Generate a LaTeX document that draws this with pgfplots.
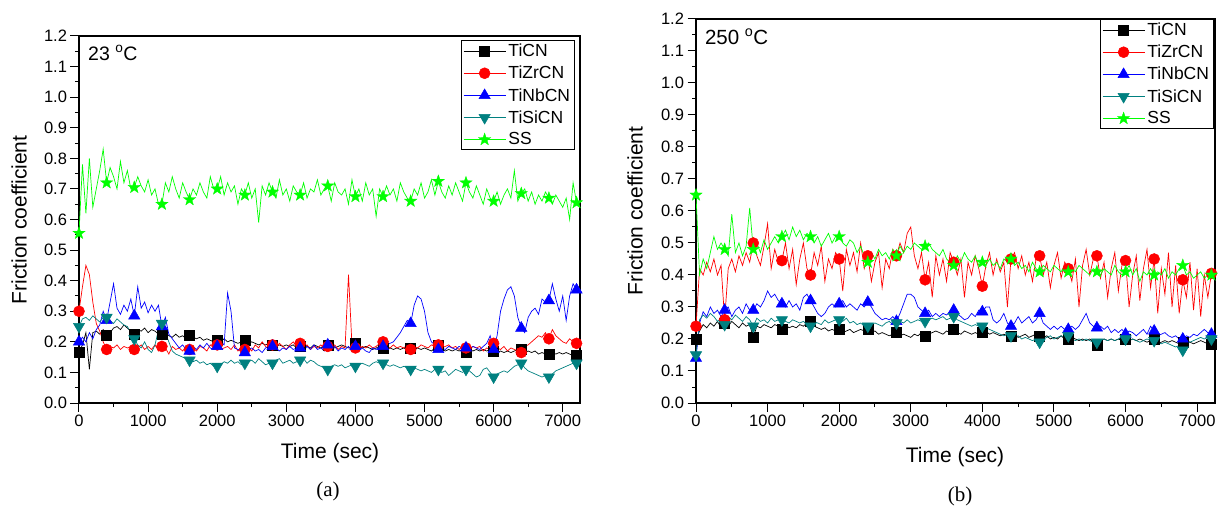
\documentclass[border=0pt]{standalone}
\usepackage{fontspec}
\setmainfont{Liberation Sans}
\newfontfamily\seriffont{Liberation Serif}
\usepackage{pgfplots}
\usepackage{pgfplotstable}
\pgfplotsset{compat=1.18}
\usetikzlibrary{plotmarks}
\definecolor{tealc}{RGB}{0,128,128}
\definecolor{ssgreen}{RGB}{0,255,0}

\pgfdeclareplotmark{fstar}{%
  \pgfpathmoveto{\pgfpointpolar{90}{\pgfplotmarksize}}%
  \pgfpathlineto{\pgfpointpolar{126}{0.40\pgfplotmarksize}}%
  \pgfpathlineto{\pgfpointpolar{162}{\pgfplotmarksize}}%
  \pgfpathlineto{\pgfpointpolar{198}{0.40\pgfplotmarksize}}%
  \pgfpathlineto{\pgfpointpolar{234}{\pgfplotmarksize}}%
  \pgfpathlineto{\pgfpointpolar{270}{0.40\pgfplotmarksize}}%
  \pgfpathlineto{\pgfpointpolar{306}{\pgfplotmarksize}}%
  \pgfpathlineto{\pgfpointpolar{342}{0.40\pgfplotmarksize}}%
  \pgfpathlineto{\pgfpointpolar{18}{\pgfplotmarksize}}%
  \pgfpathlineto{\pgfpointpolar{54}{0.40\pgfplotmarksize}}%
  \pgfpathclose
  \pgfusepathqfillstroke
}

% 23 C : t TiCN TiZrCN TiNbCN TiSiCN SS
\pgfplotstableread{
t a b c d e
0 0.165 0.300 0.200 0.250 0.555
50 0.190 0.380 0.215 0.275 0.780
100 0.230 0.450 0.200 0.280 0.620
150 0.110 0.420 0.230 0.270 0.800
200 0.230 0.330 0.210 0.285 0.640
250 0.235 0.260 0.240 0.275 0.700
300 0.225 0.235 0.255 0.265 0.760
350 0.240 0.200 0.300 0.280 0.830
400 0.220 0.175 0.270 0.280 0.720
450 0.230 0.185 0.330 0.270 0.770
500 0.245 0.180 0.390 0.260 0.740
550 0.250 0.190 0.310 0.275 0.700
600 0.240 0.175 0.290 0.265 0.790
650 0.255 0.185 0.320 0.255 0.720
700 0.245 0.180 0.300 0.250 0.760
750 0.235 0.185 0.340 0.230 0.700
800 0.225 0.175 0.285 0.210 0.705
850 0.240 0.180 0.380 0.190 0.740
900 0.235 0.190 0.310 0.180 0.710
950 0.245 0.175 0.330 0.200 0.690
1000 0.230 0.185 0.295 0.175 0.730
1050 0.240 0.175 0.320 0.165 0.680
1100 0.235 0.190 0.300 0.190 0.700
1150 0.225 0.170 0.320 0.240 0.650
1200 0.225 0.185 0.250 0.260 0.650
1250 0.230 0.180 0.280 0.230 0.720
1300 0.220 0.160 0.225 0.200 0.690
1350 0.215 0.185 0.210 0.170 0.740
1400 0.225 0.175 0.195 0.160 0.700
1450 0.215 0.180 0.180 0.155 0.670
1500 0.220 0.170 0.190 0.150 0.720
1550 0.210 0.185 0.175 0.145 0.690
1600 0.220 0.175 0.170 0.140 0.665
1650 0.215 0.180 0.185 0.135 0.700
1700 0.210 0.170 0.175 0.140 0.680
1750 0.215 0.185 0.190 0.130 0.720
1800 0.205 0.180 0.180 0.135 0.690
1850 0.210 0.170 0.195 0.125 0.670
1900 0.205 0.190 0.180 0.130 0.740
1950 0.200 0.180 0.175 0.120 0.700
2000 0.205 0.190 0.185 0.120 0.700
2050 0.200 0.175 0.200 0.125 0.740
2100 0.210 0.180 0.190 0.135 0.680
2150 0.200 0.185 0.360 0.130 0.720
2200 0.205 0.175 0.300 0.140 0.690
2250 0.200 0.190 0.180 0.130 0.710
2300 0.195 0.170 0.175 0.135 0.650
2350 0.200 0.185 0.170 0.125 0.700
2400 0.205 0.175 0.165 0.130 0.680
2450 0.195 0.185 0.175 0.135 0.720
2500 0.200 0.170 0.180 0.140 0.670
2550 0.195 0.190 0.170 0.130 0.700
2600 0.190 0.180 0.175 0.145 0.590
2650 0.195 0.200 0.165 0.135 0.710
2700 0.190 0.185 0.180 0.125 0.680
2750 0.195 0.175 0.185 0.130 0.720
2800 0.190 0.190 0.185 0.130 0.690
2850 0.185 0.180 0.175 0.140 0.670
2900 0.190 0.195 0.170 0.145 0.730
2950 0.185 0.185 0.180 0.130 0.680
3000 0.190 0.175 0.175 0.135 0.700
3050 0.185 0.190 0.185 0.140 0.660
3100 0.190 0.200 0.175 0.130 0.710
3150 0.180 0.185 0.180 0.135 0.690
3200 0.185 0.195 0.180 0.140 0.680
3250 0.190 0.180 0.170 0.145 0.720
3300 0.185 0.190 0.185 0.130 0.670
3350 0.180 0.175 0.175 0.140 0.700
3400 0.190 0.185 0.190 0.135 0.690
3450 0.185 0.180 0.175 0.125 0.730
3500 0.180 0.190 0.180 0.120 0.680
3550 0.185 0.175 0.170 0.115 0.700
3600 0.190 0.185 0.190 0.110 0.710
3650 0.185 0.180 0.175 0.120 0.660
3700 0.180 0.190 0.185 0.125 0.720
3750 0.185 0.175 0.170 0.120 0.690
3800 0.190 0.185 0.180 0.125 0.680
3850 0.185 0.180 0.175 0.115 0.700
3900 0.180 0.420 0.185 0.120 0.650
3950 0.185 0.190 0.170 0.125 0.730
4000 0.195 0.180 0.185 0.120 0.675
4050 0.185 0.175 0.175 0.125 0.700
4100 0.180 0.185 0.180 0.130 0.660
4150 0.185 0.180 0.170 0.125 0.720
4200 0.180 0.190 0.165 0.120 0.680
4250 0.175 0.180 0.180 0.130 0.700
4300 0.180 0.185 0.175 0.135 0.610
4350 0.185 0.195 0.185 0.130 0.700
4400 0.180 0.200 0.185 0.130 0.675
4450 0.175 0.185 0.190 0.125 0.710
4500 0.180 0.180 0.195 0.120 0.680
4550 0.175 0.190 0.200 0.125 0.700
4600 0.180 0.180 0.215 0.120 0.660
4650 0.175 0.185 0.230 0.115 0.720
4700 0.180 0.180 0.250 0.120 0.690
4750 0.175 0.190 0.270 0.115 0.670
4800 0.180 0.175 0.260 0.110 0.660
4850 0.175 0.185 0.320 0.115 0.700
4900 0.180 0.180 0.350 0.110 0.680
4950 0.175 0.190 0.340 0.105 0.720
5000 0.180 0.185 0.300 0.110 0.670
5050 0.175 0.180 0.230 0.105 0.690
5100 0.170 0.190 0.200 0.100 0.730
5150 0.180 0.185 0.190 0.110 0.680
5200 0.190 0.190 0.175 0.110 0.725
5250 0.175 0.180 0.180 0.100 0.690
5300 0.170 0.185 0.175 0.105 0.670
5350 0.175 0.190 0.185 0.090 0.710
5400 0.170 0.180 0.180 0.100 0.680
5450 0.175 0.185 0.175 0.110 0.720
5500 0.170 0.175 0.185 0.105 0.690
5550 0.175 0.185 0.180 0.100 0.660
5600 0.165 0.180 0.180 0.110 0.720
5650 0.175 0.175 0.175 0.105 0.690
5700 0.170 0.185 0.185 0.095 0.670
5750 0.175 0.180 0.180 0.085 0.710
5800 0.170 0.185 0.175 0.090 0.680
5850 0.175 0.170 0.185 0.110 0.650
5900 0.170 0.180 0.195 0.115 0.700
5950 0.175 0.175 0.220 0.100 0.670
6000 0.170 0.195 0.175 0.085 0.660
6050 0.165 0.180 0.220 0.095 0.690
6100 0.170 0.175 0.300 0.100 0.650
6150 0.165 0.185 0.340 0.105 0.680
6200 0.170 0.170 0.370 0.100 0.700
6250 0.165 0.180 0.380 0.110 0.670
6300 0.170 0.175 0.350 0.120 0.760
6350 0.175 0.170 0.280 0.125 0.660
6400 0.175 0.165 0.245 0.130 0.685
6450 0.165 0.185 0.230 0.115 0.700
6500 0.170 0.190 0.280 0.105 0.660
6550 0.165 0.200 0.300 0.100 0.690
6600 0.170 0.210 0.310 0.095 0.650
6650 0.160 0.220 0.290 0.090 0.680
6700 0.165 0.215 0.340 0.085 0.660
6750 0.160 0.230 0.330 0.090 0.690
6800 0.160 0.210 0.335 0.085 0.670
6850 0.165 0.240 0.390 0.095 0.650
6900 0.160 0.220 0.340 0.105 0.680
6950 0.165 0.210 0.300 0.110 0.660
7000 0.160 0.200 0.350 0.115 0.640
7050 0.165 0.195 0.270 0.120 0.670
7100 0.160 0.210 0.350 0.125 0.600
7150 0.155 0.200 0.390 0.130 0.720
7200 0.155 0.195 0.370 0.130 0.655
}\tabA

% 250 C : t TiCN TiZrCN TiNbCN TiSiCN SS
\pgfplotstableread{
t a b c d e
0 0.200 0.240 0.140 0.150 0.650
50 0.225 0.420 0.250 0.260 0.400
100 0.245 0.400 0.285 0.275 0.450
150 0.235 0.440 0.270 0.265 0.420
200 0.250 0.410 0.300 0.280 0.470
250 0.240 0.450 0.280 0.270 0.520
300 0.255 0.400 0.290 0.255 0.480
350 0.235 0.430 0.270 0.265 0.500
400 0.250 0.260 0.290 0.245 0.480
450 0.240 0.420 0.300 0.270 0.460
500 0.255 0.450 0.270 0.260 0.590
550 0.245 0.410 0.290 0.275 0.470
600 0.235 0.460 0.300 0.265 0.500
650 0.250 0.430 0.280 0.255 0.460
700 0.240 0.470 0.310 0.270 0.490
750 0.245 0.440 0.290 0.260 0.610
800 0.205 0.500 0.290 0.240 0.480
850 0.240 0.460 0.310 0.265 0.500
900 0.235 0.430 0.300 0.255 0.470
950 0.245 0.490 0.320 0.260 0.510
1000 0.240 0.560 0.350 0.250 0.480
1050 0.235 0.420 0.330 0.265 0.500
1100 0.245 0.480 0.340 0.255 0.520
1150 0.240 0.440 0.320 0.260 0.500
1200 0.230 0.445 0.310 0.260 0.520
1250 0.245 0.500 0.300 0.255 0.540
1300 0.235 0.420 0.320 0.250 0.510
1350 0.240 0.480 0.300 0.260 0.550
1400 0.235 0.370 0.310 0.255 0.520
1450 0.245 0.450 0.290 0.250 0.540
1500 0.240 0.500 0.330 0.255 0.510
1550 0.250 0.420 0.340 0.245 0.530
1600 0.255 0.400 0.320 0.240 0.520
1650 0.240 0.470 0.300 0.255 0.500
1700 0.235 0.430 0.280 0.250 0.520
1750 0.230 0.490 0.270 0.245 0.490
1800 0.235 0.380 0.280 0.260 0.510
1850 0.225 0.450 0.300 0.250 0.530
1900 0.230 0.420 0.310 0.255 0.500
1950 0.225 0.470 0.300 0.260 0.520
2000 0.230 0.450 0.310 0.260 0.520
2050 0.220 0.350 0.320 0.255 0.500
2100 0.225 0.480 0.300 0.265 0.490
2150 0.230 0.430 0.310 0.250 0.510
2200 0.220 0.470 0.300 0.255 0.500
2250 0.225 0.410 0.290 0.245 0.470
2300 0.230 0.500 0.310 0.250 0.490
2350 0.225 0.420 0.300 0.240 0.460
2400 0.230 0.460 0.315 0.240 0.440
2450 0.220 0.380 0.300 0.245 0.470
2500 0.225 0.440 0.280 0.250 0.450
2550 0.215 0.470 0.270 0.245 0.480
2600 0.220 0.360 0.260 0.240 0.460
2650 0.215 0.450 0.265 0.250 0.470
2700 0.210 0.420 0.260 0.255 0.450
2750 0.215 0.480 0.270 0.245 0.480
2800 0.220 0.460 0.255 0.250 0.460
2850 0.210 0.500 0.280 0.255 0.490
2900 0.215 0.470 0.310 0.250 0.470
2950 0.210 0.530 0.340 0.260 0.490
3000 0.205 0.550 0.340 0.250 0.480
3050 0.215 0.460 0.330 0.255 0.500
3100 0.210 0.420 0.300 0.260 0.490
3150 0.220 0.470 0.290 0.255 0.480
3200 0.210 0.385 0.280 0.255 0.490
3250 0.215 0.440 0.290 0.260 0.500
3300 0.220 0.330 0.270 0.265 0.480
3350 0.225 0.460 0.280 0.260 0.470
3400 0.220 0.400 0.270 0.265 0.460
3450 0.215 0.450 0.280 0.270 0.480
3500 0.225 0.380 0.275 0.260 0.450
3550 0.220 0.470 0.285 0.265 0.440
3600 0.230 0.440 0.290 0.270 0.430
3650 0.220 0.400 0.280 0.260 0.460
3700 0.215 0.450 0.270 0.255 0.440
3750 0.225 0.330 0.260 0.250 0.470
3800 0.220 0.440 0.265 0.245 0.450
3850 0.215 0.400 0.280 0.240 0.440
3900 0.220 0.460 0.270 0.245 0.460
3950 0.215 0.420 0.290 0.240 0.430
4000 0.220 0.365 0.285 0.240 0.440
4050 0.225 0.430 0.300 0.235 0.430
4100 0.215 0.470 0.300 0.230 0.450
4150 0.220 0.400 0.260 0.225 0.430
4200 0.215 0.450 0.250 0.220 0.440
4250 0.210 0.410 0.260 0.215 0.420
4300 0.215 0.440 0.280 0.210 0.450
4350 0.210 0.300 0.250 0.215 0.440
4400 0.210 0.450 0.240 0.210 0.450
4450 0.215 0.470 0.250 0.205 0.430
4500 0.205 0.420 0.270 0.210 0.440
4550 0.210 0.460 0.250 0.200 0.420
4600 0.215 0.400 0.260 0.205 0.430
4650 0.205 0.440 0.270 0.200 0.410
4700 0.210 0.380 0.250 0.195 0.440
4750 0.215 0.450 0.260 0.200 0.420
4800 0.210 0.460 0.280 0.190 0.410
4850 0.205 0.400 0.250 0.200 0.430
4900 0.210 0.440 0.240 0.205 0.420
4950 0.200 0.360 0.230 0.210 0.410
5000 0.205 0.430 0.240 0.200 0.430
5050 0.200 0.470 0.230 0.205 0.420
5100 0.210 0.390 0.240 0.210 0.410
5150 0.200 0.440 0.230 0.205 0.430
5200 0.200 0.420 0.230 0.210 0.410
5250 0.205 0.380 0.240 0.200 0.420
5300 0.200 0.450 0.230 0.195 0.410
5350 0.195 0.300 0.240 0.200 0.430
5400 0.200 0.430 0.260 0.195 0.420
5450 0.195 0.480 0.280 0.200 0.410
5500 0.200 0.400 0.250 0.195 0.400
5550 0.190 0.450 0.240 0.190 0.420
5600 0.180 0.460 0.235 0.190 0.410
5650 0.195 0.390 0.240 0.195 0.400
5700 0.200 0.440 0.230 0.200 0.420
5750 0.195 0.330 0.240 0.195 0.410
5800 0.200 0.420 0.220 0.200 0.400
5850 0.195 0.470 0.230 0.195 0.430
5900 0.200 0.350 0.220 0.200 0.410
5950 0.195 0.430 0.230 0.205 0.400
6000 0.200 0.445 0.215 0.200 0.410
6050 0.195 0.300 0.225 0.195 0.430
6100 0.200 0.400 0.220 0.200 0.400
6150 0.195 0.460 0.210 0.195 0.420
6200 0.200 0.320 0.220 0.190 0.380
6250 0.195 0.420 0.230 0.195 0.410
6300 0.190 0.480 0.215 0.200 0.400
6350 0.195 0.360 0.240 0.195 0.420
6400 0.200 0.450 0.225 0.195 0.400
6450 0.185 0.280 0.210 0.190 0.410
6500 0.190 0.420 0.215 0.185 0.400
6550 0.195 0.340 0.220 0.190 0.420
6600 0.190 0.470 0.210 0.185 0.390
6650 0.195 0.300 0.205 0.180 0.410
6700 0.190 0.430 0.210 0.175 0.400
6750 0.185 0.280 0.200 0.180 0.420
6800 0.190 0.385 0.200 0.165 0.430
6850 0.195 0.330 0.210 0.185 0.400
6900 0.190 0.440 0.205 0.190 0.410
6950 0.185 0.290 0.215 0.195 0.390
7000 0.190 0.420 0.210 0.200 0.400
7050 0.195 0.270 0.220 0.205 0.410
7100 0.190 0.400 0.230 0.200 0.390
7150 0.185 0.330 0.220 0.205 0.400
7200 0.185 0.405 0.215 0.200 0.400
}\tabB

\pgfplotsset{
  panel/.style={
    scale only axis,
    xmin=0, xmax=7250, ymin=0, ymax=1.2,
    xtick={0,1000,2000,3000,4000,5000,6000,7000},
    ytick={0,0.1,0.2,0.3,0.4,0.5,0.6,0.7,0.8,0.9,1.0,1.1,1.2},
    minor x tick num=1, minor y tick num=1,
    tick align=outside, tick pos=left,
    major tick length=8.5pt, minor tick length=4pt,
    axis line style={line width=1.1pt},
    tick style={line width=1pt, black},
    ticklabel style={font=\fontsize{16.5}{18}\selectfont},
    /pgf/number format/assume math mode=true,
    scaled ticks=false,
    xticklabel style={/pgf/number format/set thousands separator={}},
    yticklabel style={/pgf/number format/.cd, fixed, fixed zerofill, precision=1},
    clip=true,
    legend cell align=left,
    legend image code/.code={\draw[mark repeat=2,mark phase=2,##1] plot coordinates {(0pt,0pt) (21pt,0pt) (42pt,0pt)};},
    legend style={anchor=north east, draw=black, line width=0.9pt,
      font=\fontsize{17.5}{17.5}\selectfont, inner xsep=2pt, inner ysep=1pt,
      row sep=3pt, nodes={inner sep=2.5pt},
      /tikz/every even column/.append style={column sep=1pt}},
  },
  sTiCN/.style={black, line width=0.7pt, mark=square*, mark size=5pt, mark repeat=8, mark options={solid, fill=black, line width=0.5pt}},
  sTiZrCN/.style={red, line width=0.7pt, mark=*, mark size=5.5pt, mark repeat=8, mark options={solid, fill=red, line width=0.5pt}},
  sTiNbCN/.style={blue, line width=0.7pt, mark=triangle*, mark size=6.5pt, mark repeat=8, mark options={solid, fill=blue, line width=0.5pt}},
  sTiSiCN/.style={tealc, line width=0.7pt, mark=triangle*, mark size=6.5pt, mark repeat=8, mark options={solid, fill=tealc, rotate=180, line width=0.5pt}},
  sSS/.style={ssgreen, line width=0.7pt, mark=fstar, mark size=6.5pt, mark repeat=8, mark options={solid, fill=ssgreen, line width=0.3pt}},
}

\begin{document}
\begin{tikzpicture}
\useasboundingbox (0pt,0pt) rectangle (1219pt,509pt);

% ---- panel (a) ----
\begin{axis}[panel, at={(79pt,106pt)}, anchor=south west, width=501pt, height=367pt,
  legend style={at={(0.990,0.989)}}]
\addplot[sTiCN] table[x=t,y=a]{\tabA};
\addplot[sTiZrCN] table[x=t,y=b]{\tabA};
\addplot[sTiNbCN] table[x=t,y=c]{\tabA};
\addplot[sTiSiCN] table[x=t,y=d]{\tabA};
\addplot[sSS] table[x=t,y=e]{\tabA};
\legend{TiCN,TiZrCN,TiNbCN,TiSiCN,SS}
\node[anchor=north west, font=\fontsize{19.5}{19.5}\selectfont, inner sep=0pt] at (rel axis cs:0.018,0.975) {23 \textsuperscript{o}C};
\end{axis}

% ---- panel (b) ----
\begin{axis}[panel, at={(696pt,106pt)}, anchor=south west, width=519pt, height=384pt,
  legend style={at={(0.998,1.0)}}]
\addplot[sTiCN] table[x=t,y=a]{\tabB};
\addplot[sTiZrCN] table[x=t,y=b]{\tabB};
\addplot[sTiNbCN] table[x=t,y=c]{\tabB};
\addplot[sTiSiCN] table[x=t,y=d]{\tabB};
\addplot[sSS] table[x=t,y=e]{\tabB};
\legend{TiCN,TiZrCN,TiNbCN,TiSiCN,SS}
\node[anchor=north west, font=\fontsize{20.5}{20.5}\selectfont, inner sep=0pt] at (rel axis cs:0.017,0.975) {250 \textsuperscript{o}C};
\end{axis}

% axis titles and captions
\node[rotate=90, font=\fontsize{21}{21}\selectfont] at (19pt,289pt) {Friction coefficient};
\node[rotate=90, font=\fontsize{21}{21}\selectfont] at (635pt,298pt) {Friction coefficient};
\node[font=\fontsize{21}{21}\selectfont] at (330pt,56pt) {Time (sec)};
\node[font=\fontsize{21}{21}\selectfont] at (955pt,52pt) {Time (sec)};
\node[font=\seriffont\fontsize{21}{21}\selectfont] at (328pt,18pt) {(a)};
\node[font=\seriffont\fontsize{21}{21}\selectfont] at (960pt,13pt) {(b)};
\end{tikzpicture}
\end{document}
